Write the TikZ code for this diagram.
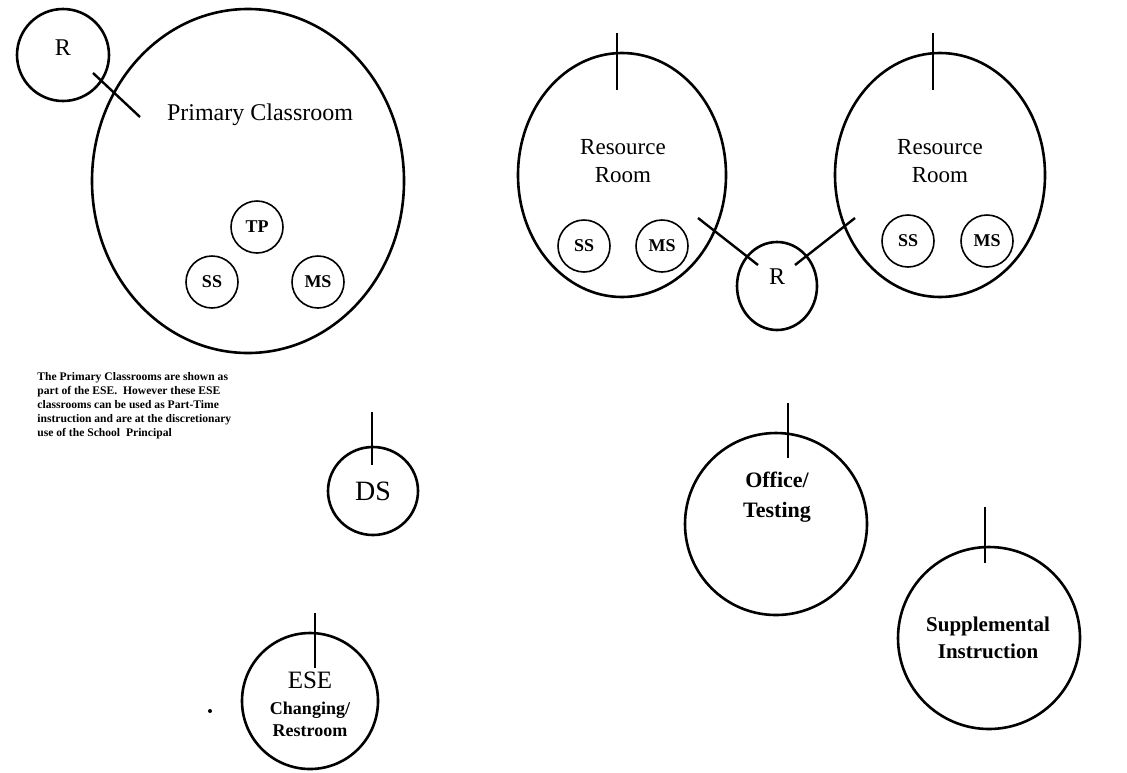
\documentclass[tikz,border=0pt]{standalone}
\usepackage{fontspec}
\setmainfont{Liberation Serif}
\usetikzlibrary{shapes.geometric}

\begin{document}
\begin{tikzpicture}[x=0.5pt, y=-0.5pt,
  room/.style={draw, ellipse, line width=1.3pt, inner sep=0pt},
  seat/.style={draw, circle, line width=0.8pt, inner sep=0pt, minimum size=26pt,
    font=\fontsize{9}{10}\selectfont\bfseries},
  tick/.style={line width=1.2pt},
  lbl/.style={align=center, font=\fontsize{12}{14}\selectfont}]

\useasboundingbox (0,0) rectangle (1127,772);

% Rooms
\node[room, minimum width=46pt,  minimum height=46pt]  (rA)  at (63,55)   {};
\node[room, minimum width=156pt, minimum height=172pt] (pc)  at (248,181) {};
\node[room, minimum width=104pt, minimum height=122pt] (rrL) at (622,175) {};
\node[room, minimum width=105pt, minimum height=122pt] (rrR) at (940,175) {};
\node[room, minimum width=40pt,  minimum height=44pt]  (rB)  at (777,286) {};
\node[room, minimum width=45pt,  minimum height=44pt]  (ds)  at (373,491) {};
\node[room, minimum width=68pt,  minimum height=68pt]  (ese) at (310,701) {};
\node[room, minimum width=91pt,  minimum height=91pt]  (off) at (776,524) {};
\node[room, minimum width=91pt,  minimum height=91pt]  (sup) at (989,638) {};

% Stations
\node[seat] (tp)  at (257,227) {TP};
\node[seat] (ssA) at (212,282) {SS};
\node[seat] (msA) at (318,282) {MS};
\node[seat] (ssB) at (584,246) {SS};
\node[seat] (msB) at (662,246) {MS};
\node[seat] (ssC) at (908,241) {SS};
\node[seat] (msC) at (987,241) {MS};

% Labels
\node[lbl] (lrA) at (63,48)   {R};
\node[lbl] (lpc) at (260,115) {Primary Classroom};
\node[lbl, font=\fontsize{11.5}{14}\selectfont] (lrrL) at (623,161) {Resource\\Room};
\node[lbl, font=\fontsize{11.5}{14}\selectfont] (lrrR) at (940,161) {Resource\\Room};
\node[lbl] (lrB) at (777,277) {R};
\node[lbl, font=\fontsize{14}{16}\selectfont] (lds) at (373,491) {DS};
\node[lbl, font=\fontsize{12.5}{14}\selectfont] (lese) at (310,680) {ESE};
\node[lbl, font=\fontsize{9}{11}\selectfont\bfseries] (lchg) at (310,719) {Changing/\\Restroom};
\node[lbl, font=\fontsize{11}{15}\selectfont\bfseries] (loff) at (777,497) {Office/\\Testing};
\node[lbl, font=\fontsize{10.5}{13.5}\selectfont\bfseries] (lsup) at (988,638) {Supplemental\\Instruction};

% Note
\node[anchor=north west, align=left, inner sep=0pt,
  font=\fontsize{5.8}{7}\selectfont\bfseries] (note) at (37,372)
  {The Primary Classrooms are shown as\\
   part of the ESE.\ \ However these ESE\\
   classrooms can be used as Part-Time\\
   instruction and are at the discretionary\\
   use of the School\ \ Principal};

% Doors and links
\coordinate (dA1) at (93,73);   \coordinate (dA2) at (140,117);
\coordinate (dB1) at (617,33);  \coordinate (dB2) at (617,90);
\coordinate (dC1) at (933,33);  \coordinate (dC2) at (933,90);
\coordinate (dD1) at (698,218); \coordinate (dD2) at (758,265);
\coordinate (dE1) at (855,218); \coordinate (dE2) at (795,265);
\coordinate (dF1) at (372,412); \coordinate (dF2) at (372,465);
\coordinate (dG1) at (315,613); \coordinate (dG2) at (315,668);
\coordinate (dH1) at (788,403); \coordinate (dH2) at (788,458);
\coordinate (dI1) at (985,507); \coordinate (dI2) at (985,563);

\draw[tick] (dA1) -- (dA2);
\draw[tick] (dB1) -- (dB2);
\draw[tick] (dC1) -- (dC2);
\draw[tick] (dD1) -- (dD2);
\draw[tick] (dE1) -- (dE2);
\draw[tick] (dF1) -- (dF2);
\draw[tick] (dG1) -- (dG2);
\draw[tick] (dH1) -- (dH2);
\draw[tick] (dI1) -- (dI2);

% speck
\fill (210,711) circle (1pt);

\end{tikzpicture}
\end{document}
